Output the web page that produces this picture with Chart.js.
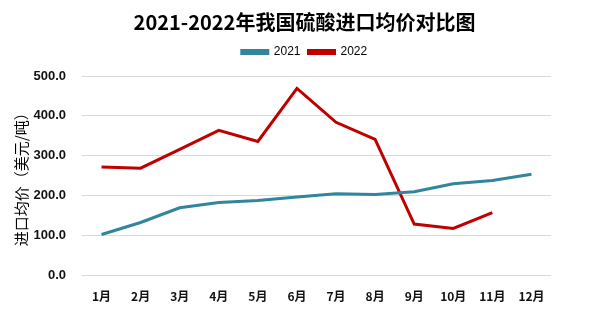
<!DOCTYPE html>
<html>
<head>
<meta charset="utf-8">
<script src="https://cdn.jsdelivr.net/npm/chart.js@4"></script>
<style>
  body { margin: 0; background: #fff; }
  #wrap { width: 605px; height: 321px; }
</style>
</head>
<body>
<div id="wrap"><canvas id="priceChart"></canvas></div>
<script>
// chart data
const months = ['1月', '2月', '3月', '4月', '5月', '6月', '7月', '8月', '9月', '10月', '11月', '12月'];
const price2021 = [103, 133, 170, 183, 188, 197, 205, 203, 210, 230, 238, 254];
const price2022 = [272, 269, 316, 364, 336, 469, 384, 341, 129, 118, 158, null];

const pc = document.getElementById('priceChart');

// extra room under the legend
const legendGap = {
  id: 'legendGap',
  beforeInit(chart) {
    const fit = chart.legend.fit;
    chart.legend.fit = function() {
      fit.bind(chart.legend)();
      this.height += 8;
    };
  }
};

new Chart(pc, {
  type: 'line',
  data: {
    labels: months,
    datasets: [{
      label: '2021',
      data: price2021,
      borderColor: '#31859c',
      backgroundColor: '#31859c',
      borderWidth: 3,
      pointRadius: 0,
      tension: 0
    }, {
      label: '2022',
      data: price2022,
      borderColor: '#c00000',
      backgroundColor: '#c00000',
      borderWidth: 3,
      pointRadius: 0,
      tension: 0
    }]
  },
  options: {
    responsive: true,
    maintainAspectRatio: false,
    animation: false,
    layout: { padding: { left: 12, right: 8, top: 0, bottom: 11 } },
    plugins: {
      title: {
        display: true,
        text: '2021-2022年我国硫酸进口均价对比图',
        color: '#000',
        font: { family: 'Noto Sans CJK SC', size: 20, weight: 'bold' },
        padding: { top: 10, bottom: 4 }
      },
      legend: {
        display: true,
        position: 'top',
        labels: {
          color: '#000',
          font: { family: 'Liberation Sans', size: 12 },
          boxWidth: 26,
          boxHeight: 3,
          padding: 8
        }
      },
      tooltip: { enabled: false }
    },
    scales: {
      x: {
        offset: true,
        grid: { display: false },
        border: { display: false },
        ticks: {
          color: '#111',
          font: { family: 'Noto Sans CJK SC', size: 12, weight: 'bold' },
          padding: 6
        }
      },
      y: {
        min: 0,
        max: 500,
        grid: { color: '#d9d9d9', drawTicks: false },
        border: { display: false },
        afterFit: function(scale) { scale.width = 70; },
        title: {
          display: true,
          text: '进口均价（美元/吨）',
          color: '#000',
          font: { family: 'Noto Sans CJK SC', size: 15 },
          padding: 0
        },
        ticks: {
          stepSize: 100,
          color: '#111',
          font: { family: 'Liberation Sans', size: 13, weight: 'bold' },
          padding: 16,
          callback: function(v) { return v.toFixed(1); }
        }
      },
      yRight: {
        position: 'right',
        grid: { display: false },
        border: { display: false },
        ticks: { display: false },
        afterFit: function(scale) { scale.width = 46; }
      }
    }
  },
  plugins: [legendGap]
});
</script>
</body>
</html>
